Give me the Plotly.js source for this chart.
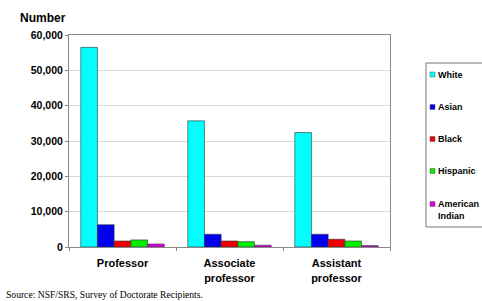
<!DOCTYPE html>
<html><head><meta charset="utf-8">
<script src="https://cdn.plot.ly/plotly-3.0.1.min.js"></script>
<style>html,body{margin:0;padding:0;background:#fff;}#chart{width:482px;height:301px;}</style>
</head><body><div id="chart"></div>
<script>
const categories = ["Professor", "Associate<br>professor", "Assistant<br>professor"];
const seriesNames = ["White", "Asian", "Black", "Hispanic", "American<br>Indian"];
const white = [56500, 35700, 32400];
const asian = [6300, 3600, 3600];
const black = [1700, 1700, 2200];
const hispanic = [2000, 1500, 1700];
const americanIndian = [850, 500, 400];
const yTickVals = [0, 10000, 20000, 30000, 40000, 50000, 60000];
const yTickText = ["0", "10,000", "20,000", "30,000", "40,000", "50,000", "60,000"];
const colors = ["#00FFFF", "#0000EE", "#EE0000", "#00EE00", "#DD00DD"];
const values = [white, asian, black, hispanic, americanIndian];

const traces = values.map((v, i) => ({
  type: "bar", x: categories, y: v, name: seriesNames[i],
  marker: {color: colors[i], line: {color: "#333333", width: 0.6}},
  hoverinfo: "skip", showlegend: false
}));

// plot area geometry (pixels) used to place the hand-built legend box
const L = 69, R = 92, T = 35, B = 54, W = 482 - L - R, H = 301 - T - B;
const px = x => (x - L) / W;
const py = y => (301 - B - y) / H;

const shapes = [
  {type: "rect", xref: "paper", yref: "paper", x0: px(426), x1: px(492), y0: py(227), y1: py(63),
   line: {color: "#777", width: 1}, fillcolor: "#fff", layer: "above"}
];
const annotations = [
  {text: "Number", xref: "paper", yref: "paper", x: px(18), y: py(18),
   xanchor: "left", yanchor: "middle", showarrow: false, font: {size: 12, weight: "bold"}},
  {text: "Source: NSF/SRS, Survey of Doctorate Recipients.", xref: "paper", yref: "paper",
   x: px(4), y: py(294.5), xanchor: "left", yanchor: "middle", showarrow: false,
   font: {size: 9.6, family: "Liberation Serif, Times New Roman, serif"}}
];
const legendY = [74.5, 107, 139, 171, 204];
seriesNames.forEach((name, i) => {
  const cy = legendY[i];
  shapes.push({type: "rect", xref: "paper", yref: "paper", x0: px(430), x1: px(435),
    y0: py(cy + 2.5), y1: py(cy - 2.5), fillcolor: colors[i], line: {color: "#555", width: 0.5}, layer: "above"});
  annotations.push({text: name, xref: "paper", yref: "paper", x: px(436.5), y: py(cy - 6),
    xanchor: "left", yanchor: "top", align: "left", showarrow: false,
    font: {size: 9, weight: "bold"}, borderpad: 0});
});

const layout = {
  width: 482, height: 301,
  margin: {l: L, r: R, t: T, b: B, autoexpand: false},
  paper_bgcolor: "#fff", plot_bgcolor: "#fff",
  barmode: "group", bargap: 0.22, bargroupgap: 0,
  font: {family: "Liberation Sans, Arial, sans-serif", color: "#000"},
  xaxis: {
    showline: true, linecolor: "#888", linewidth: 1, mirror: true,
    ticks: "outside", tickson: "boundaries", ticklen: 3, tickcolor: "#888",
    tickfont: {size: 11, weight: "bold"}, showgrid: false, automargin: false,
    ticklabelstandoff: 6
  },
  yaxis: {
    range: [0, 60000], tickvals: yTickVals, ticktext: yTickText,
    showline: true, linecolor: "#888", linewidth: 1, mirror: true,
    ticks: "outside", ticklen: 3, tickcolor: "#888",
    gridcolor: "#d9d9d9", gridwidth: 1, zeroline: false,
    tickfont: {size: 10.5, weight: "bold"}, automargin: false
  },
  showlegend: false,
  shapes: shapes,
  annotations: annotations
};
Plotly.newPlot("chart", traces, layout, {staticPlot: true, displayModeBar: false});
</script></body></html>
